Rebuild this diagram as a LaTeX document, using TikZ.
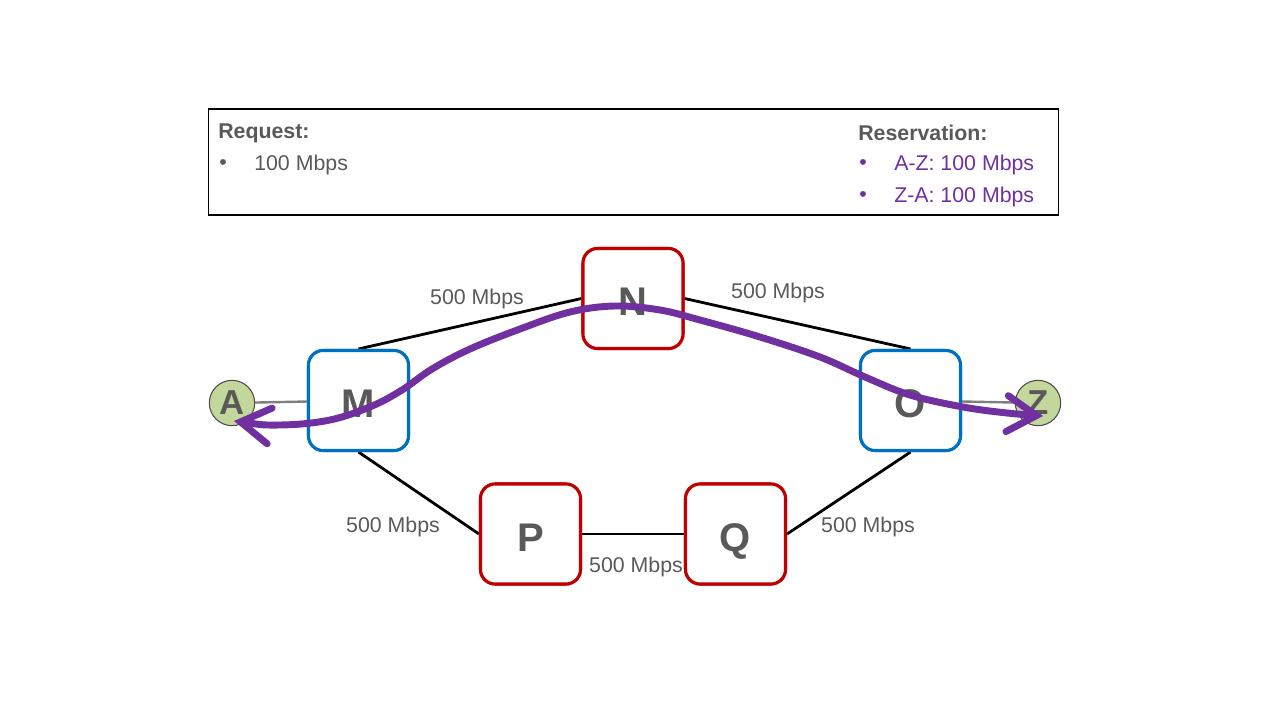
\documentclass[tikz,border=0pt]{standalone}
\usepackage{fontspec}
\setmainfont{Liberation Sans}
\usetikzlibrary{arrows.meta}
\definecolor{txtgray}{HTML}{595959}
\definecolor{netblue}{HTML}{0070C0}
\definecolor{netred}{HTML}{C00000}
\definecolor{hostgreen}{HTML}{C3D69B}
\definecolor{pathpurple}{HTML}{7030A0}
\definecolor{stubgray}{HTML}{7F7F7F}
\tikzset{
  router/.style={draw, line width=2.3pt, rounded corners=11pt, fill=white,
    minimum size=75pt, inner sep=0pt, text=txtgray,
    font=\fontsize{30}{32}\selectfont\bfseries},
  edgerouter/.style={router, draw=netblue},
  corerouter/.style={router, draw=netred},
  host/.style={circle, draw=black!70, line width=0.8pt, fill=hostgreen,
    minimum size=34pt, inner sep=0pt, text=txtgray,
    font=\fontsize{26}{28}\selectfont\bfseries},
  link/.style={line width=2.1pt, black},
  stub/.style={line width=1.8pt, stubgray},
  bw/.style={text=txtgray, font=\fontsize{16}{19}\selectfont, inner sep=0pt},
  infotext/.style={font=\fontsize{16}{19}\selectfont, inner sep=0pt, anchor=west},
  infohead/.style={infotext, text=txtgray, font=\fontsize{16}{19}\selectfont\bfseries},
  route/.style={line width=5.2pt, pathpurple, line cap=round, line join=round,
    >={Straight Barb[length=22pt,width=27pt,line cap=round]}, <->}
}
% letter of a router, set a little below the centre of its box
\newcommand{\rlabel}[1]{\raisebox{-2.5pt}[\height][0pt]{#1}}
\begin{document}
\begin{tikzpicture}[x=0.75pt,y=-0.75pt]
\useasboundingbox (0,0) rectangle (1280,720);

% info panel
\node[draw=black, line width=0.8pt, minimum width=638pt, minimum height=79.5pt, inner sep=0pt]
  (panel) at (633.5,162) {};
\node[infohead] (reqhead) at (218,133) {Request:};
\node[infotext, text=txtgray] (reqbul) at (219,165) {•};
\node[infotext, text=txtgray] (reqval) at (254,165) {100 Mbps};
\node[infohead] (reshead) at (858,133) {Reservation:};
\node[infotext, text=pathpurple] (resbulA) at (859,165) {•};
\node[infotext, text=pathpurple] (resvalA) at (894,165) {A-Z: 100 Mbps};
\node[infotext, text=pathpurple] (resbulB) at (859,197) {•};
\node[infotext, text=pathpurple] (resvalB) at (894,197) {Z-A: 100 Mbps};

% hosts
\node[host] (A) at (232,403) {A};
\node[host] (Z) at (1038,403) {Z};

% routers, placed first so the links can refer to them
\node[edgerouter] (M) at (358.5,400.5) {\rlabel{M}};
\node[edgerouter] (O) at (910.5,400.5) {\rlabel{O}};
\node[corerouter] (N) at (633,298.5) {\rlabel{N}};
\node[corerouter] (P) at (530.5,534) {\rlabel{P}};
\node[corerouter] (Q) at (735.5,534) {\rlabel{Q}};

% links
\draw[stub] (A) -- (M);
\draw[stub] (O) -- (Z);
\draw[link] (M.north) -- (N.west);
\draw[link] (N.east) -- (O.north);
\draw[link] (M.south) -- (P.west);
\draw[link] (P.east) -- (Q.west);
\draw[link] (Q.east) -- (O.south);

% redraw routers on top of the links
\node[edgerouter] at (M) {\rlabel{M}};
\node[edgerouter] at (O) {\rlabel{O}};
\node[corerouter] at (N) {\rlabel{N}};
\node[corerouter] at (P) {\rlabel{P}};
\node[corerouter] at (Q) {\rlabel{Q}};

% link capacities
\node[bw] (lMN) at (477,299) {500 Mbps};
\node[bw] (lNO) at (778,293) {500 Mbps};
\node[bw] (lMP) at (393,527) {500 Mbps};
\node[bw] (lPQ) at (636,567) {500 Mbps};
\node[bw] (lQO) at (868,527) {500 Mbps};

% reserved path A <-> Z
\draw[route] plot[smooth, tension=0.6] coordinates {
  (234,421) (280,425) (330,420) (372,406) (402,390) (432,369) (470,349)
  (520,329) (570,312) (615,306) (660,310) (700,320) (760,337) (820,357)
  (865,377) (910,395) (963,407) (1007,413) (1043,416)};
\end{tikzpicture}
\end{document}
